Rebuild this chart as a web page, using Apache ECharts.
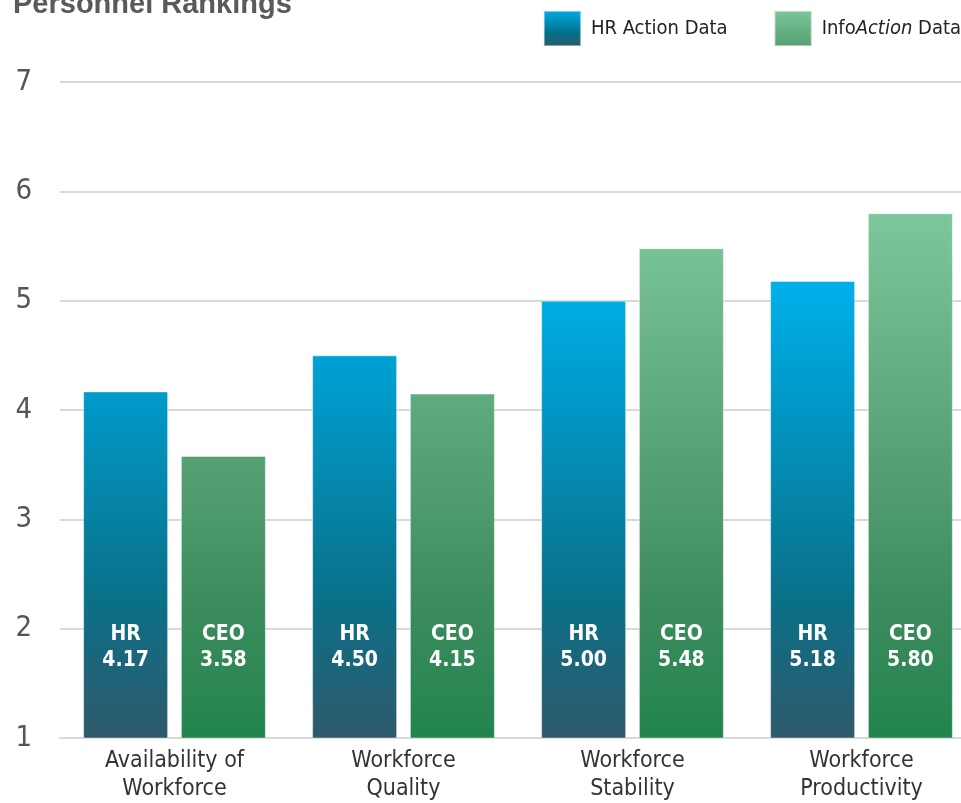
<!DOCTYPE html>
<html>
<head>
<meta charset="utf-8">
<script src="https://cdn.jsdelivr.net/npm/echarts@6/dist/echarts.min.js"></script>
<style>
  html, body { margin: 0; padding: 0; background: #fff; }
  #chart { width: 961px; height: 803px; }
</style>
</head>
<body>
<div id="chart"></div>
<script>
var categories = ['Availability of\nWorkforce', 'Workforce\nQuality', 'Workforce\nStability', 'Workforce\nProductivity'];
var hrValues = [4.17, 4.50, 5.00, 5.18];
var ceoValues = [3.58, 4.15, 5.48, 5.80];
var seriesNames = ['HR Action Data', 'InfoAction Data'];
var barTags = ['HR', 'CEO'];

var narrow = "'DejaVu Sans Condensed', 'Liberation Sans Narrow', sans-serif";

// gradient across the plot (pixel coords), so short bars get darker tops
function hrFill() {
    return new echarts.graphic.LinearGradient(0, 280, 0, 738, [
        { offset: 0, color: '#00b0ea' },
        { offset: 0.24, color: '#009bcb' },
        { offset: 0.7, color: '#0a7088' },
        { offset: 1, color: '#30596b' }
    ], true);
}
function ceoFill() {
    return new echarts.graphic.LinearGradient(0, 213, 0, 738, [
        { offset: 0, color: '#7dc79c' },
        { offset: 0.46, color: '#57a274' },
        { offset: 0.74, color: '#3d8c5e' },
        { offset: 1, color: '#22844d' }
    ], true);
}

var myChart = echarts.init(document.getElementById('chart'));

var barLabel = function (tag) {
    return {
        show: true,
        position: 'insideBottom',
        distance: 65,
        color: '#fff',
        fontFamily: narrow,
        fontWeight: 'bold',
        fontSize: 21,
        lineHeight: 26,
        formatter: function (p) { return tag + '\n' + p.value.toFixed(2); }
    };
};

var option = {
    animation: false,
    title: {
        text: 'Personnel Rankings',
        left: 13,
        top: -10,
        padding: 0,
        textStyle: { fontFamily: 'Liberation Sans, sans-serif', fontWeight: 'bold', fontSize: 29, color: '#5a5a5a' }
    },
    legend: {
        right: 0,
        top: 10,
        itemWidth: 37,
        itemHeight: 35,
        itemGap: 46,
        padding: 0,
        icon: 'rect',
        textStyle: {
            fontFamily: narrow,
            fontSize: 20,
            color: '#222',
            padding: [0, 0, 0, 5],
            rich: {
                a: { fontFamily: narrow, fontSize: 20, color: '#222' },
                i: { fontFamily: narrow, fontSize: 20, color: '#222', fontStyle: 'italic' }
            }
        },
        formatter: function (name) {
            if (name === 'InfoAction Data') return '{a|Info}{i|Action}{a| Data}';
            return name;
        },
        data: [
            { name: seriesNames[0], itemStyle: { color: new echarts.graphic.LinearGradient(0, 0, 0, 1, [{ offset: 0, color: '#00aee8' }, { offset: 0.6, color: '#00718c' }, { offset: 1, color: '#30596b' }]) } },
            { name: seriesNames[1], itemStyle: { color: new echarts.graphic.LinearGradient(0, 0, 0, 1, [{ offset: 0, color: '#7cc59a' }, { offset: 1, color: '#55a173' }]) } }
        ]
    },
    grid: { left: 60, top: 82, bottom: 65, width: 916, outerBoundsMode: 'none', containLabel: false },
    xAxis: {
        type: 'category',
        data: categories,
        axisLine: { lineStyle: { color: '#d9d9d9', width: 2 } },
        axisTick: { show: false },
        axisLabel: { fontFamily: narrow, fontSize: 23, lineHeight: 28, color: '#333', margin: 9 }
    },
    yAxis: {
        type: 'value',
        min: 1,
        max: 7,
        interval: 1,
        axisLine: { show: false },
        axisTick: { show: false },
        splitLine: { lineStyle: { color: '#d9d9d9', width: 2 } },
        axisLabel: { fontFamily: narrow, fontSize: 29, color: '#555', margin: 28 }
    },
    series: [
        {
            name: seriesNames[0],
            type: 'bar',
            data: hrValues,
            barWidth: 85,
            barGap: '15%',
            itemStyle: { color: hrFill(), borderColor: 'rgba(255,255,255,0.45)', borderWidth: 1 },
            label: barLabel(barTags[0])
        },
        {
            name: seriesNames[1],
            type: 'bar',
            data: ceoValues,
            barWidth: 85,
            itemStyle: { color: ceoFill(), borderColor: 'rgba(255,255,255,0.45)', borderWidth: 1 },
            label: barLabel(barTags[1])
        }
    ]
};

myChart.setOption(option);
</script>
</body>
</html>
